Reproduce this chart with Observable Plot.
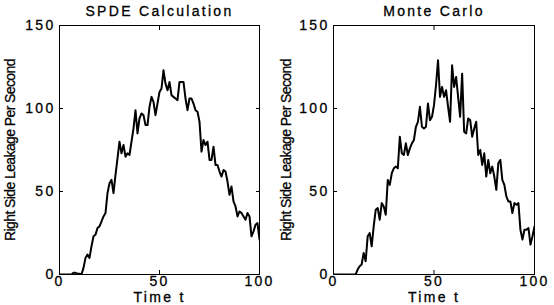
<!DOCTYPE html>
<html>
<head>
<meta charset="utf-8">
<script src="https://cdn.jsdelivr.net/npm/d3@7"></script>
<script src="https://cdn.jsdelivr.net/npm/@observablehq/plot@0.6"></script>
<style>
  html, body { margin: 0; padding: 0; background: #fff; }
  #wrap { position: relative; width: 554px; height: 305px; overflow: hidden; }
  #wrap > div { position: absolute; top: 0; }
  #wrap svg text { letter-spacing: 2.3px; stroke: black; stroke-width: 0.3px; }
  #wrap svg text.ylab { letter-spacing: -0.6px; }
</style>
</head>
<body>
<div id="wrap"><div id="p1" style="left:0"></div><div id="p2" style="left:277px"></div></div>
<script>
const time = [0,1,2,3,4,5,6,7,8,9,10,11,12,13,14,15,16,17,18,19,20,21,22,23,24,25,26,27,28,29,30,31,32,33,34,35,36,37,38,39,40,41,42,43,44,45,46,47,48,49,50,51,52,53,54,55,56,57,58,59,60,61,62,63,64,65,66,67,68,69,70,71,72,73,74,75,76,77,78,79,80,81,82,83,84,85,86,87,88,89,90,91,92,93,94,95,96,97,98,99,100];

const spde = [0,0,0,0,0,0,0, 1,1,0.5,0.5,0,
  4,10,12,10,17,23,24,28,29,
  32,35,37,49,55,57,49,60,70,80,
  73,78,71,73,72,80,88,99,85,94,
  97,96,90,90,101,107,104,96,103,110,
  112,123,115,111,116,108,107,106,105,116,
  116,116,106,99,106,106,103,99,98,92,
  74,81,78,80,69,69,77,66,66,62,
  59,63,62,56,48,53,44,41,35,38,
  37,35,33,37,35,23,26,30,31,21];

const monteCarlo = [0,0,0,0,0,0,0,0,0,0,0,0,
  3,5,6,13,8,23,25,17,29,
  39,40,33,43,41,36,57,54,61,64,
  65,64,83,73,72,79,72,76,79,81,
  89,92,101,89,88,89,103,93,95,102,
  114,129,107,113,107,111,101,92,126,113,
  119,107,95,121,86,85,94,93,83,88,
  92,72,75,66,73,59,69,61,65,59,
  51,67,69,57,54,47,44,44,37,43,
  42,43,27,21,27,27,28,18,23,29];

const titles = ["SPDE Calculation", "Monte Carlo"];
const xLabel = "Time t";
const yLabel = "Right Side Leakage Per Second";
const xTicks = [0, 50, 100];
const yTicks = [0, 50, 100, 150];

const FONT = "'Liberation Sans', Arial, Helvetica, sans-serif";

function panel(values, title, ml, mr, ylabDx) {
  const data = time.map((t, i) => ({t, v: values[i]}));
  const svg = Plot.plot({
    width: 277,
    height: 305,
    marginLeft: ml,
    marginRight: mr,
    marginTop: 25,
    marginBottom: 31,
    style: {fontFamily: FONT, fontSize: "14px", background: "white", color: "black", overflow: "visible"},
    x: {domain: [0, 100], axis: null},
    y: {domain: [0, 150], axis: null},
    marks: [
      Plot.line(data, {x: "t", y: "v", stroke: "black", strokeWidth: 2, clip: true}),
      Plot.frame({stroke: "black", strokeWidth: 1}),
      Plot.axisX({anchor: "bottom", ticks: xTicks, tickSize: -4, fill: "none", tickFormat: () => "", label: null}),
      Plot.axisX({anchor: "top", ticks: xTicks, tickSize: -4, fill: "none", tickFormat: () => "", label: null}),
      Plot.axisY({anchor: "left", ticks: yTicks, tickSize: -4, fill: "none", tickFormat: () => "", label: null}),
      Plot.axisY({anchor: "right", ticks: yTicks, tickSize: -4, fill: "none", tickFormat: () => "", label: null}),
      Plot.axisX({anchor: "bottom", ticks: xTicks, tickSize: 0, tickPadding: 2, label: null}),
      Plot.axisY({anchor: "left", ticks: yTicks, tickSize: 0, tickPadding: 4, label: null}),
      Plot.text([title], {frameAnchor: "top", dy: -10, lineAnchor: "bottom", fontSize: 14}),
      Plot.text([xLabel], {frameAnchor: "bottom", dy: 27, lineAnchor: "bottom", fontSize: 14}),
      Plot.text([yLabel], {frameAnchor: "left", textAnchor: "middle", dx: ylabDx, rotate: -90, lineAnchor: "bottom", fontSize: 14})
    ]
  });
  d3.select(svg).selectAll("text").filter(function() { return this.textContent === yLabel; }).classed("ylab", true);
  return svg;
}

document.getElementById("p1").appendChild(panel(spde, titles[0], 59, 18, -45));
document.getElementById("p2").appendChild(panel(monteCarlo, titles[1], 56, 20, -43));
</script>
</body>
</html>
